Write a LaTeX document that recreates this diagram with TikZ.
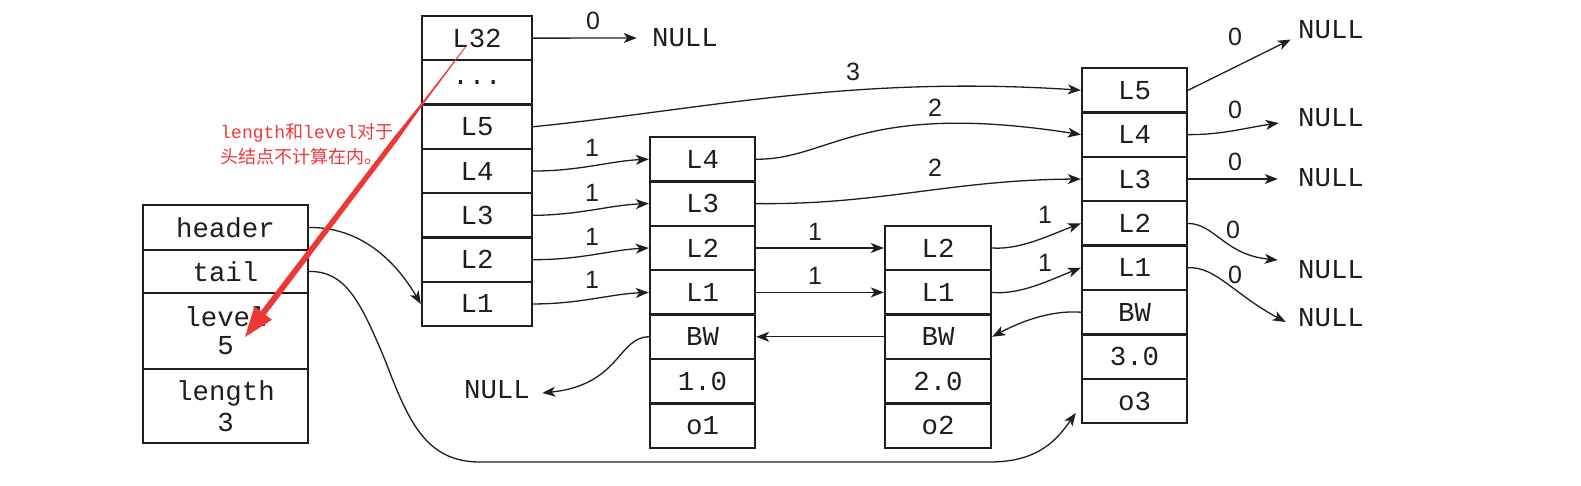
\documentclass[tikz,border=0pt]{standalone}
\usepackage{fontspec}
\newfontfamily\cour{Liberation Mono}
\newfontfamily\lab{Liberation Sans}
\newfontfamily\cjk{Noto Sans CJK SC}
\usetikzlibrary{arrows.meta,calc}
\definecolor{annot}{RGB}{238,55,55}
\definecolor{ink}{RGB}{30,30,30}
\begin{document}
\begin{tikzpicture}[x=0.5pt,y=-0.5pt,
  cell/.style={draw=ink, line width=1.2pt, inner sep=0pt, minimum height=22.15pt,
    font=\cour\fontsize{13.7}{15}\selectfont, text=ink, align=center},
  colS/.style={cell, minimum width=82.5pt},
  colH/.style={cell, minimum width=55pt},
  colA/.style={cell, minimum width=52.5pt},
  colB/.style={cell, minimum width=53pt},
  nullnode/.style={inner sep=0pt, font=\cour\fontsize{13.7}{15}\selectfont, text=ink},
  lbl/.style={inner sep=0pt, font=\lab\fontsize{12.5}{13}\selectfont, text=ink},
  conn/.style={draw=ink, line width=0.65pt, -{Stealth[length=6.5pt,width=5pt,inset=1.8pt]}}]
\useasboundingbox (0,0) rectangle (1581,486);

% struct
\node[colS, minimum height=22.5pt] (s-header) at (225.5,227.5) {header};
\node[colS, minimum height=21.5pt] (s-tail) at (225.5,271.5) {tail};
\node[colS, minimum height=38pt, font=\cour\fontsize{13.7}{14}\selectfont] (s-level) at (225.5,331) {level\\5};
\node[colS, minimum height=37pt, font=\cour\fontsize{13.7}{15.5}\selectfont] (s-length) at (225.5,406) {length\\3};

% head column
\node[colH] (h-L32) at (477,38.15) {L32};
\node[colH] (h-dots) at (477,82.45) {...};
\node[colH] (h-L5) at (477,126.75) {L5};
\node[colH] (h-L4) at (477,171.05) {L4};
\node[colH] (h-L3) at (477,215.35) {L3};
\node[colH] (h-L2) at (477,259.65) {L2};
\node[colH] (h-L1) at (477,303.95) {L1};

% node 1
\node[colA] (a-L4) at (702.5,159.2) {L4};
\node[colA] (a-L3) at (702.5,203.6) {L3};
\node[colA] (a-L2) at (702.5,248.0) {L2};
\node[colA] (a-L1) at (702.5,292.4) {L1};
\node[colA] (a-BW) at (702.5,336.8) {BW};
\node[colA] (a-sc) at (702.5,381.2) {1.0};
\node[colA] (a-o) at (702.5,425.6) {o1};

% node 2
\node[colB] (b-L2) at (938,248.0) {L2};
\node[colB] (b-L1) at (938,292.4) {L1};
\node[colB] (b-BW) at (938,336.8) {BW};
\node[colB] (b-sc) at (938,381.2) {2.0};
\node[colB] (b-o) at (938,425.6) {o2};

% node 3
\node[colA] (c-L5) at (1134.5,90.2) {L5};
\node[colA] (c-L4) at (1134.5,134.6) {L4};
\node[colA] (c-L3) at (1134.5,179.0) {L3};
\node[colA] (c-L2) at (1134.5,223.4) {L2};
\node[colA] (c-L1) at (1134.5,267.8) {L1};
\node[colA] (c-BW) at (1134.5,312.2) {BW};
\node[colA] (c-sc) at (1134.5,356.6) {3.0};
\node[colA] (c-o) at (1134.5,401.0) {o3};

% NULLs
\node[nullnode] (null-top) at (685,38) {NULL};
\node[nullnode] (null-bw) at (497,390) {NULL};
\node[nullnode] (null-5) at (1331,30) {NULL};
\node[nullnode] (null-4) at (1331,118) {NULL};
\node[nullnode] (null-3) at (1331,178) {NULL};
\node[nullnode] (null-2) at (1331,270) {NULL};
\node[nullnode] (null-1) at (1331,318) {NULL};

% labels
\node[lbl] (lb-top) at (593,21) {0};
\node[lbl] (lb-h5) at (853,72) {3};
\node[lbl] (lb-a4) at (935,108) {2};
\node[lbl] (lb-a3) at (935,168) {2};
\node[lbl] (lb-h4) at (592,148) {1};
\node[lbl] (lb-h3) at (592,193) {1};
\node[lbl] (lb-h2) at (592,237) {1};
\node[lbl] (lb-h1) at (592,280) {1};
\node[lbl] (lb-a2) at (815,232) {1};
\node[lbl] (lb-a1) at (815,276) {1};
\node[lbl] (lb-b2) at (1045,215) {1};
\node[lbl] (lb-b1) at (1045,263) {1};
\node[lbl] (lb-c5) at (1235,37) {0};
\node[lbl] (lb-c4) at (1235,110) {0};
\node[lbl] (lb-c3) at (1235,162) {0};
\node[lbl] (lb-c2) at (1233,230) {0};
\node[lbl] (lb-c1) at (1235,275) {0};

% connectors
\draw[conn, shorten >=7.5pt] (h-L32.east) -- (null-top.west);
\draw[conn] (h-L5.east) .. controls (700,110) and (850,75) .. (c-L5.west);
\draw[conn] (h-L4.east) .. controls (580,171) and (610,161) .. (a-L4.west);
\draw[conn] (h-L3.east) .. controls (580,215) and (610,205) .. (a-L3.west);
\draw[conn] (h-L2.east) .. controls (580,260) and (610,250) .. (a-L2.west);
\draw[conn] (h-L1.east) .. controls (580,304) and (610,294) .. (a-L1.west);
\draw[conn] (a-L4.east) .. controls (830,160) and (860,100) .. (c-L4.west);
\draw[conn] (a-L3.east) .. controls (880,205) and (950,180) .. (c-L3.west);
\draw[conn] (a-L2.east) -- (b-L2.west);
\draw[conn] (a-L1.east) -- (b-L1.west);
\draw[conn] (b-L2.east) .. controls (1020,250) and (1050,235) .. (c-L2.west);
\draw[conn] (b-L1.east) .. controls (1020,295) and (1050,280) .. (c-L1.west);
\draw[conn] (c-BW.west) .. controls (1050,310) and (1020,322) .. (b-BW.east);
\draw[conn] (b-BW.west) -- (a-BW.east);
\draw[conn] (a-BW.west) .. controls (618,337) and (620,385) .. ($(null-bw.east)+(12,3)$);
\draw[conn] (s-header.east) .. controls (360,227) and (395,260) .. (h-L1.west);
\draw[conn] (s-tail.east) .. controls (345,271) and (360,300) .. (385,360)
  .. controls (408,420) and (425,462) .. (480,462) -- (990,462)
  .. controls (1040,462) and (1058,438) .. ($(c-o.west)+(-5,12)$);
\draw[conn] (c-L5.east) -- ($(null-5.south west)+(-7,0)$);
\draw[conn] (c-L4.east) .. controls (1220,135) and (1245,128) .. ($(null-4.west)+(-19,5)$);
\draw[conn, shorten >=10pt] (c-L3.east) -- (c-L3.east -| null-3.west);
\draw[conn] (c-L2.east) .. controls (1215,224) and (1225,255) .. ($(null-2.west)+(-20,-10)$);
\draw[conn] (c-L1.east) .. controls (1215,266) and (1235,295) .. ($(null-1.west)+(-12,4)$);

% annotation
\node[inner sep=0pt, anchor=west, text=annot, align=left,
  font=\fontsize{9}{12.5}\selectfont] (note) at (220,144.5)
  {{\cour length}{\cjk 和}{\cour level}{\cjk 对于}\\{\cjk 头结点不计算在内。}};
\fill[annot] (466.68,44.76) -- (424.4,99.4) -- (392.8,138.5) -- (260.8,311.3)
  -- (254.44,306.44) -- (245,337) -- (271.96,319.76) -- (265.6,314.9)
  -- (396.8,141.5) -- (426.0,100.6) -- (467.32,45.24) -- cycle;
\end{tikzpicture}
\end{document}
